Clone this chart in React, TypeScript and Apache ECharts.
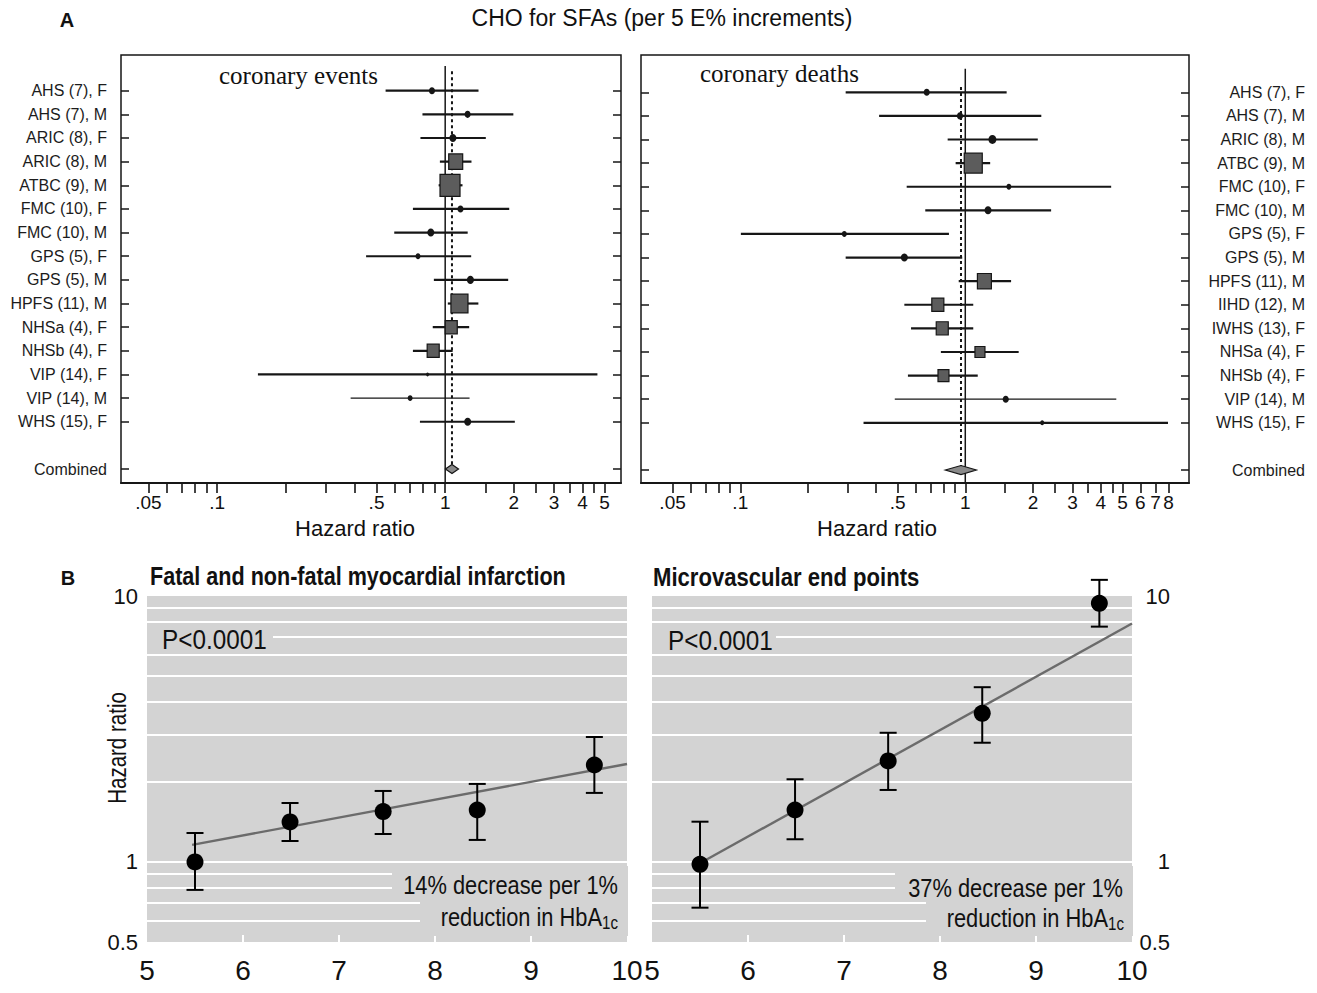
import React, { useEffect, useRef } from 'react';
import * as echarts from 'echarts';

// ---------- Panel A: coronary events ----------
const eventsStudies = ['AHS (7), F', 'AHS (7), M', 'ARIC (8), F', 'ARIC (8), M', 'ATBC (9), M', 'FMC (10), F', 'FMC (10), M', 'GPS (5), F', 'GPS (5), M', 'HPFS (11), M', 'NHSa (4), F', 'NHSb (4), F', 'VIP (14), F', 'VIP (14), M', 'WHS (15), F'];
const eventsHR = [0.875, 1.254, 1.081, 1.112, 1.05, 1.167, 0.865, 0.76, 1.29, 1.155, 1.063, 0.886, 0.837, 0.702, 1.255];
const eventsLow = [0.548, 0.795, 0.779, 0.948, 0.936, 0.722, 0.598, 0.45, 0.892, 1.027, 0.882, 0.722, 0.151, 0.385, 0.775];
const eventsHigh = [1.4, 1.99, 1.507, 1.304, 1.191, 1.909, 1.255, 1.3, 1.889, 1.398, 1.274, 1.078, 4.65, 1.279, 2.02];
const eventsWeight = [2.0, 2.0, 2.6, 7.8, 16.0, 2.0, 2.6, 1.4, 2.6, 11.6, 5.8, 5.8, 0.6, 1.4, 2.6];
const eventsCombined = [1.071, 1.002, 1.144]; // HR, low, high

// ---------- Panel A: coronary deaths ----------
const deathsStudies = ['AHS (7), F', 'AHS (7), M', 'ARIC (8), M', 'ATBC (9), M', 'FMC (10), F', 'FMC (10), M', 'GPS (5), F', 'GPS (5), M', 'HPFS (11), M', 'IIHD (12), M', 'IWHS (13), F', 'NHSa (4), F', 'NHSb (4), F', 'VIP (14), M', 'WHS (15), F'];
const deathsHR = [0.674, 0.947, 1.32, 1.085, 1.562, 1.262, 0.29, 0.536, 1.216, 0.755, 0.79, 1.162, 0.8, 1.513, 2.197];
const deathsLow = [0.294, 0.414, 0.835, 0.906, 0.549, 0.664, 0.1006, 0.294, 0.935, 0.536, 0.574, 0.779, 0.556, 0.486, 0.353];
const deathsHigh = [1.527, 2.177, 2.1, 1.29, 4.45, 2.407, 0.846, 0.969, 1.598, 1.085, 1.085, 1.727, 1.136, 4.69, 7.96];
const deathsWeight = [2.0, 2.0, 3.2, 13.0, 1.4, 2.6, 1.4, 2.6, 7.8, 5.8, 5.8, 4.0, 4.8, 2.0, 1.0];
const deathsCombined = [0.957, 0.815, 1.12];

const forestTickValues = [0.05, 0.06, 0.07, 0.08, 0.09, 0.1, 0.2, 0.3, 0.4, 0.5, 0.6, 0.7, 0.8, 0.9, 1, 1.5, 2, 2.5, 3, 3.5, 4, 4.5, 5];
const forestTickValuesWide = [...forestTickValues, 6, 7, 8];
const forestLabelValues = [0.05, 0.1, 0.5, 1, 2, 3, 4, 5];
const forestLabelValuesWide = [...forestLabelValues, 6, 7, 8];

// ---------- Panel B ----------
const hba1c = [5.5, 6.49, 7.46, 8.44, 9.66];
const miHR = [1.0, 1.414, 1.546, 1.568, 2.315];
const miLow = [0.785, 1.199, 1.274, 1.21, 1.818];
const miHigh = [1.285, 1.666, 1.849, 1.965, 2.95];
const miFitX = [5.47, 10];
const miFitHR = [1.159, 2.335];
const mvHR = [0.98, 1.568, 2.397, 3.62, 9.39];
const mvLow = [0.673, 1.217, 1.865, 2.807, 7.67];
const mvHigh = [1.417, 2.046, 3.06, 4.54, 11.5];
const mvFitX = [5.56, 10];
const mvFitHR = [1.017, 7.88];
const bXLabels = [5, 6, 7, 8, 9, 10];
const bXTicks = [6, 7, 8, 9];
const bYLabels = [0.5, 1, 10];
const bYGrid = [0.6, 0.7, 0.8, 0.9, 1, 2, 3, 4, 5, 6, 7, 8, 9];

const SANS = "'Liberation Sans', Arial, Helvetica, sans-serif";
const SERIF = "'Liberation Serif', 'Times New Roman', serif";
const GRAY = '#d3d3d3';
const INK = '#161616';

const rowIdx = eventsStudies.map((_, i) => i);
const combinedRow = eventsStudies.length + 1;
const rowTicks = [...rowIdx, combinedRow];

const fmtForest = (v: number) => {
  const r = +(+v).toPrecision(3);
  return r < 1 ? String(r).replace(/^0/, '') : String(r);
};

const forestRender = (names: string[]) => (params: any, api: any) => {
  const row = api.value(0);
  const hr = api.value(1);
  const lo = api.value(2);
  const hi = api.value(3);
  const w = api.value(4);
  const a = api.coord([lo, row]);
  const b = api.coord([hi, row]);
  const c = api.coord([hr, row]);
  const s = Math.sqrt(w) * 5;
  const thin = names[params.dataIndex] === 'VIP (14), M';
  const children: any[] = [
    { type: 'line', shape: { x1: a[0], y1: a[1], x2: b[0], y2: b[1] }, style: { stroke: INK, lineWidth: thin ? 1.2 : 2.2 } },
  ];
  if (s < 9) {
    children.push({ type: 'ellipse', shape: { cx: c[0], cy: c[1], rx: s / 2 - 0.5, ry: s / 2 }, style: { fill: INK } });
  } else {
    children.push({ type: 'rect', shape: { x: c[0] - s / 2, y: c[1] - s * 0.55, width: s, height: s * 1.1 }, style: { fill: '#5c5c5c', stroke: INK, lineWidth: 1.2 } });
  }
  return { type: 'group', children };
};

const diamondRender = (params: any, api: any) => {
  const row = api.value(0);
  const c = api.coord([api.value(1), row]);
  const l = api.coord([api.value(2), row]);
  const r = api.coord([api.value(3), row]);
  return {
    type: 'polygon',
    shape: { points: [[l[0], c[1]], [c[0], c[1] - 4.5], [r[0], c[1]], [c[0], c[1] + 4.5]] },
    style: { fill: '#8a8a8a', stroke: INK, lineWidth: 1.2 },
  };
};

const errRender = (params: any, api: any) => {
  const x = api.value(0);
  const p = api.coord([x, api.value(1)]);
  const pl = api.coord([x, api.value(2)]);
  const ph = api.coord([x, api.value(3)]);
  const cap = 8.5;
  const st = { stroke: '#000', lineWidth: 2 };
  return {
    type: 'group',
    children: [
      { type: 'line', shape: { x1: pl[0], y1: pl[1], x2: ph[0], y2: ph[1] }, style: st },
      { type: 'line', shape: { x1: pl[0] - cap, y1: pl[1], x2: pl[0] + cap, y2: pl[1] }, style: st },
      { type: 'line', shape: { x1: ph[0] - cap, y1: ph[1], x2: ph[0] + cap, y2: ph[1] }, style: st },
      { type: 'circle', shape: { cx: p[0], cy: p[1], r: 8.5 }, style: { fill: '#000' } },
    ],
  };
};

const forestYAxis = (grid: number, min: number, max: number, position: string, labels: string[] | null, align?: string, margin?: number) => ({
  type: 'value', gridIndex: grid, inverse: true, min, max, position,
  axisLine: { show: false, onZero: false },
  splitLine: { show: false },
  axisTick: { show: true, inside: true, length: 8, customValues: rowTicks, lineStyle: { color: INK, width: 1.5 } },
  axisLabel: labels
    ? {
        show: true, customValues: rowTicks, margin, align, fontSize: 16, color: '#1c1c1c', fontFamily: SANS,
        formatter: (v: number) => (v === combinedRow ? 'Combined' : labels[v] ?? ''),
      }
    : { show: false },
});

const forestXAxis = (grid: number, min: number, max: number, ticks: number[], labels: number[]) => ({
  type: 'log', gridIndex: grid, min, max, position: 'bottom',
  axisLine: { show: true, onZero: false, lineStyle: { color: INK, width: 2 } },
  axisTick: { show: true, inside: false, length: 10, customValues: ticks, lineStyle: { color: INK, width: 1.6 } },
  axisLabel: { show: true, customValues: labels, formatter: fmtForest, fontSize: 19, margin: 10, color: '#111', fontFamily: SANS },
  splitLine: { show: false },
  minorTick: { show: false },
});

const bXAxis = (grid: number) => ({
  type: 'value', gridIndex: grid, min: 5, max: 10, interval: 1, position: 'bottom',
  axisLine: { show: false, onZero: false },
  axisTick: { show: true, inside: true, length: 7, customValues: bXTicks, lineStyle: { color: '#fff', width: 2 } },
  axisLabel: { show: true, customValues: bXLabels, fontSize: 28, margin: 14, color: '#111', fontFamily: SANS },
  splitLine: { show: false },
});

const bYAxis = (grid: number, position: string, align: string, margin: number) => ({
  type: 'log', gridIndex: grid, min: 0.5, max: 10, position,
  axisLine: { show: false, onZero: false },
  axisTick: { show: false, customValues: bYGrid },
  splitLine: { show: true, lineStyle: { color: '#fff', width: 2.2 } },
  axisLabel: { show: true, customValues: bYLabels, align, margin, fontSize: 22, color: '#111', fontFamily: SANS, formatter: (v: number) => String(+(+v).toPrecision(3)) },
  minorTick: { show: false },
});

const txt = (x: number, y: number, text: string, opts: any = {}, extra: any = {}) => ({
  type: 'text', x, y, z: 100, ...extra,
  style: {
    text, fill: '#111', fontSize: 16, fontFamily: SANS,
    align: 'left', textAlign: 'left', verticalAlign: 'middle', textVerticalAlign: 'middle',
    ...opts,
  },
});

const patch = (x: number, y: number, w: number, h: number) => ({
  type: 'rect', z: 90, shape: { x, y, width: w, height: h }, style: { fill: GRAY },
});

const hbRich = {
  a: { fontSize: 26, fontFamily: SANS, lineHeight: 30, fill: '#111', color: '#111' },
  s: { fontSize: 18, fontFamily: SANS, lineHeight: 12, verticalAlign: 'bottom', fill: '#111', color: '#111' },
};

const NARROW_SCALE = 0.84;

const option: any = {
  animation: false,
  backgroundColor: '#fff',
  textStyle: { fontFamily: SANS },
  grid: [
    { left: 121, top: 55, width: 500, height: 428, show: true, borderColor: INK, borderWidth: 1.5, backgroundColor: 'transparent' },
    { left: 641, top: 55, width: 548, height: 428, show: true, borderColor: INK, borderWidth: 1.5, backgroundColor: 'transparent' },
    { left: 147, top: 596, width: 480, height: 346, show: true, borderWidth: 0, backgroundColor: GRAY },
    { left: 652, top: 596, width: 480, height: 346, show: true, borderWidth: 0, backgroundColor: GRAY },
  ],
  xAxis: [
    forestXAxis(0, 0.0379, 5.9, forestTickValues, forestLabelValues),
    forestXAxis(1, 0.0362, 9.87, forestTickValuesWide, forestLabelValuesWide),
    bXAxis(2),
    bXAxis(3),
  ],
  yAxis: [
    forestYAxis(0, -1.51, 16.59, 'left', eventsStudies, 'right', 14),
    forestYAxis(0, -1.51, 16.59, 'right', null),
    forestYAxis(1, -1.58, 16.55, 'left', null),
    forestYAxis(1, -1.58, 16.55, 'right', deathsStudies, 'right', 116),
    bYAxis(2, 'left', 'right', 9),
    bYAxis(3, 'right', 'right', 38),
  ],
  series: [
    // reference lines, coronary events
    { type: 'line', xAxisIndex: 0, yAxisIndex: 0, data: [[1, -1.05], [1, 16.59]], symbol: 'none', lineStyle: { color: INK, width: 1.5 }, z: 1 },
    { type: 'line', xAxisIndex: 0, yAxisIndex: 0, data: [[eventsCombined[0], -0.82], [eventsCombined[0], combinedRow]], symbol: 'none', lineStyle: { color: INK, width: 2, type: [3, 3] }, z: 1 },
    {
      type: 'custom', xAxisIndex: 0, yAxisIndex: 0, renderItem: forestRender(eventsStudies), clip: false,
      data: eventsStudies.map((_, i) => [i, eventsHR[i], eventsLow[i], eventsHigh[i], eventsWeight[i]]),
      encode: { x: [1, 2, 3], y: 0 }, z: 3,
    },
    { type: 'custom', xAxisIndex: 0, yAxisIndex: 0, renderItem: diamondRender, data: [[combinedRow, ...eventsCombined]], encode: { x: [1, 2, 3], y: 0 }, z: 3 },
    // reference lines, coronary deaths
    { type: 'line', xAxisIndex: 1, yAxisIndex: 2, data: [[1, -1.0], [1, 16.55]], symbol: 'none', lineStyle: { color: INK, width: 1.5 }, z: 1 },
    { type: 'line', xAxisIndex: 1, yAxisIndex: 2, data: [[deathsCombined[0], -0.22], [deathsCombined[0], combinedRow]], symbol: 'none', lineStyle: { color: INK, width: 2, type: [3, 3] }, z: 1 },
    {
      type: 'custom', xAxisIndex: 1, yAxisIndex: 2, renderItem: forestRender(deathsStudies), clip: false,
      data: deathsStudies.map((_, i) => [i, deathsHR[i], deathsLow[i], deathsHigh[i], deathsWeight[i]]),
      encode: { x: [1, 2, 3], y: 0 }, z: 3,
    },
    { type: 'custom', xAxisIndex: 1, yAxisIndex: 2, renderItem: diamondRender, data: [[combinedRow, ...deathsCombined]], encode: { x: [1, 2, 3], y: 0 }, z: 3 },
    // Panel B left
    { type: 'line', xAxisIndex: 2, yAxisIndex: 4, data: miFitX.map((x, i) => [x, miFitHR[i]]), symbol: 'none', lineStyle: { color: '#6b6b6b', width: 2.4 }, z: 2 },
    { type: 'custom', xAxisIndex: 2, yAxisIndex: 4, renderItem: errRender, clip: false, data: hba1c.map((x, i) => [x, miHR[i], miLow[i], miHigh[i]]), encode: { x: 0, y: [1, 2, 3] }, z: 3 },
    // Panel B right
    { type: 'line', xAxisIndex: 3, yAxisIndex: 5, data: mvFitX.map((x, i) => [x, mvFitHR[i]]), symbol: 'none', lineStyle: { color: '#6b6b6b', width: 2.4 }, z: 2 },
    { type: 'custom', xAxisIndex: 3, yAxisIndex: 5, renderItem: errRender, clip: false, data: hba1c.map((x, i) => [x, mvHR[i], mvLow[i], mvHigh[i]]), encode: { x: 0, y: [1, 2, 3] }, z: 3 },
  ],
  graphic: {
    elements: [
      txt(67, 20, 'A', { fontWeight: 'bold', fontSize: 20, align: 'center', textAlign: 'center' }),
      txt(662, 18, 'CHO for SFAs (per 5 E% increments)', { fontSize: 23, align: 'center', textAlign: 'center' }),
      txt(219, 75, 'coronary events', { fontSize: 25, fontFamily: SERIF }),
      txt(700, 73, 'coronary deaths', { fontSize: 25, fontFamily: SERIF }),
      txt(355, 528, 'Hazard ratio', { fontSize: 22, align: 'center', textAlign: 'center' }),
      txt(877, 528, 'Hazard ratio', { fontSize: 22, align: 'center', textAlign: 'center' }),
      txt(68, 578, 'B', { fontWeight: 'bold', fontSize: 20, align: 'center', textAlign: 'center' }),
      txt(150, 576, 'Fatal and non-fatal myocardial infarction', { fontWeight: 'bold', fontSize: 26 }, { scaleX: 0.83 }),
      txt(653, 577, 'Microvascular end points', { fontWeight: 'bold', fontSize: 26 }, { scaleX: 0.85 }),
      txt(117, 748, 'Hazard ratio', { fontSize: 25, align: 'center', textAlign: 'center' }, { rotation: Math.PI / 2, scaleX: 0.82 }),
      patch(147, 627, 126, 22),
      patch(652, 627, 124, 22),
      patch(392, 866, 236, 30),
      patch(420, 896, 208, 40),
      patch(895, 866, 238, 30),
      patch(926, 896, 207, 40),
      txt(162, 640, 'P<0.0001', { fontSize: 27 }, { scaleX: 0.9 }),
      txt(668, 641, 'P<0.0001', { fontSize: 27 }, { scaleX: 0.9 }),
      txt(618, 885, '14% decrease per 1%', { fontSize: 26, align: 'right', textAlign: 'right' }, { scaleX: NARROW_SCALE }),
      txt(618, 917, '{a|reduction in HbA}{s|1c}', { rich: hbRich, align: 'right', textAlign: 'right' }, { scaleX: NARROW_SCALE }),
      txt(1123, 888, '37% decrease per 1%', { fontSize: 26, align: 'right', textAlign: 'right' }, { scaleX: NARROW_SCALE }),
      txt(1124, 918, '{a|reduction in HbA}{s|1c}', { rich: hbRich, align: 'right', textAlign: 'right' }, { scaleX: NARROW_SCALE }),
    ],
  },
};

export default function App() {
  const ref = useRef<HTMLDivElement>(null);
  useEffect(() => {
    if (!ref.current) return;
    const chart = echarts.init(ref.current, null, { renderer: 'svg' });
    chart.setOption(option);
    return () => chart.dispose();
  }, []);
  return <div ref={ref} style={{ position: 'fixed', left: 0, top: 0, width: 1317, height: 993, background: '#fff' }} />;
}
